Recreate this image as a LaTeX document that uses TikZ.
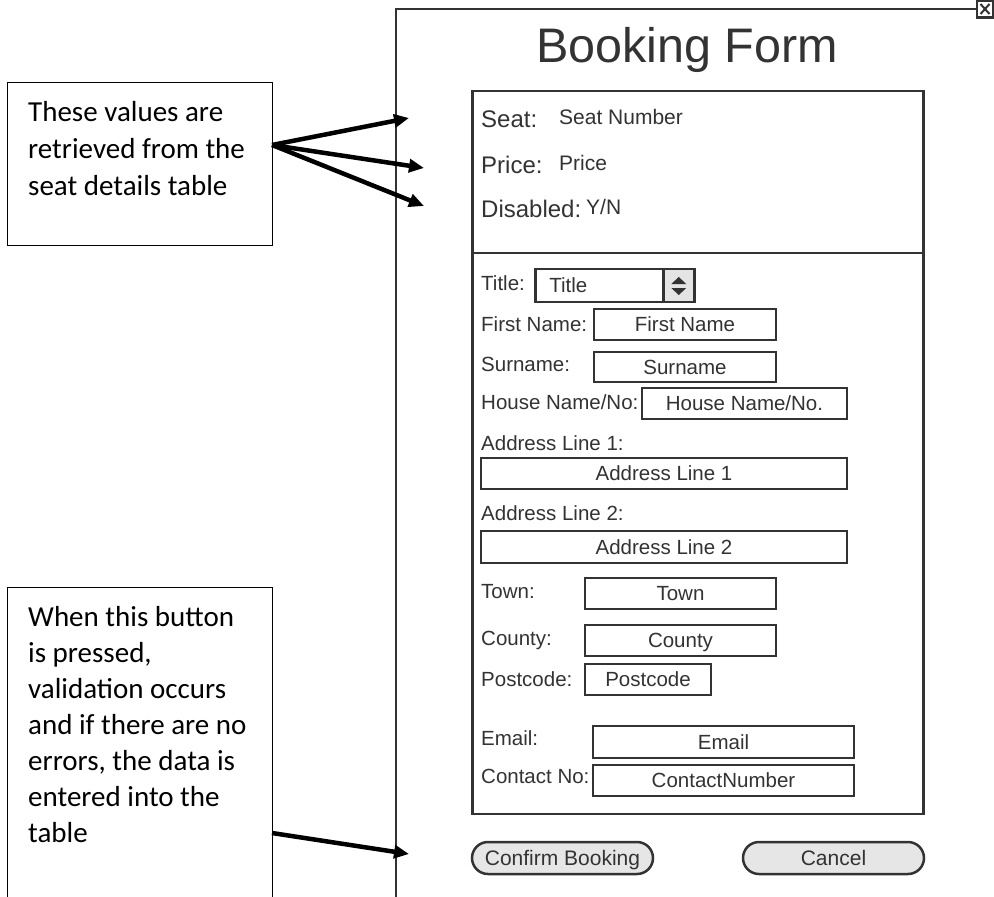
\documentclass[tikz,border=0pt]{standalone}
\usepackage{fontspec}
\setmainfont{Liberation Sans}
\newfontfamily\notefont{Carlito}
\usetikzlibrary{arrows.meta}
\definecolor{ink}{HTML}{333333}
\definecolor{btngray}{HTML}{E6E6E6}
\definecolor{spingray}{HTML}{E4E4E4}
\begin{document}
\begin{tikzpicture}[x=1pt,y=-1pt,
  wire/.style={draw=ink,line width=2.5pt},
  lbl/.style={anchor=base west,inner sep=0pt,text=ink,font=\fontsize{20.5}{24}\selectfont},
  seatlbl/.style={lbl,font=\fontsize{24}{28}\selectfont},
  seatval/.style={lbl,font=\fontsize{21}{25}\selectfont},
  field/.style={wire,fill=white,inner sep=0pt,text=ink,font=\fontsize{20.5}{24}\selectfont,text height=14.7pt,text depth=0pt},
  btn/.style={wire,fill=btngray,rounded corners=16pt,inner sep=0pt,text=ink,font=\fontsize{21}{25}\selectfont,text height=15pt,text depth=0pt},
  note/.style={anchor=base west,inner sep=0pt,align=flush left,text width=240pt},
  callout/.style={line width=4.5pt,-{Triangle[length=15pt,width=13pt]}},
]
% page
\fill[white] (0,0) rectangle (994,897);
\useasboundingbox (0,0) rectangle (994,897);

% dialog window frame and close button
\draw[wire] (396,910) -- (396,9) -- (994,9);
\node[wire,fill=white,minimum width=16pt,minimum height=17pt,inner sep=0pt] (close) at (985,9) {};
\draw[ink,line width=2pt] ([shift={(-4.5,-5)}]close.center) -- ([shift={(4.5,5)}]close.center)
                           ([shift={(-4.5,5)}]close.center) -- ([shift={(4.5,-5)}]close.center);
\node[anchor=base,inner sep=0pt,text=ink,font=\fontsize{48.5}{54}\selectfont] (heading) at (687,62) {Booking Form};

% seat details panel
\draw[wire] (472.5,91) rectangle (923.5,253);
\node[seatlbl] (seatl) at (481,127) {Seat:};
\node[seatval] (seatv) at (559,124) {Seat Number};
\node[seatlbl] (pricel) at (481,173) {Price:};
\node[seatval] (pricev) at (559,170) {Price};
\node[seatlbl] (disl) at (481,217) {Disabled:};
\node[seatval] (disv) at (586,214) {Y/N};

% customer details panel
\draw[wire] (472.5,253) rectangle (923.5,814);
\node[lbl] (titlel) at (481,290) {Title:};
\node[lbl] (fnl) at (481,331) {First Name:};
\node[lbl] (snl) at (481,371) {Surname:};
\node[lbl] (housel) at (481,409) {House Name/No:};
\node[lbl] (a1l) at (481,450) {Address Line 1:};
\node[lbl] (a2l) at (481,520) {Address Line 2:};
\node[lbl] (townl) at (481,598) {Town:};
\node[lbl] (countyl) at (481,645) {County:};
\node[lbl] (pcl) at (481,686) {Postcode:};
\node[lbl] (emaill) at (481,745) {Email:};
\node[lbl] (contactl) at (481,783) {Contact No:};

% title selector with spinner
\node[field,anchor=west,minimum width=159pt,minimum height=33pt,text width=131pt,inner xsep=14pt,align=left] (titlesel) at (534,285.5) {Title};
\node[wire,fill=spingray,anchor=east,minimum width=31pt,minimum height=33pt,inner sep=0pt] (spin) at (titlesel.east) {};
\fill[ink] ([shift={(-7.5,-1.5)}]spin.center) -- ([shift={(7.5,-1.5)}]spin.center) -- ([shift={(0,-8.5)}]spin.center) -- cycle;
\fill[ink] ([shift={(-7.5,2.5)}]spin.center) -- ([shift={(7.5,2.5)}]spin.center) -- ([shift={(0,9.5)}]spin.center) -- cycle;

% input fields
\node[field,minimum width=182pt,minimum height=31pt] (fn) at (685,324.5) {First Name};
\node[field,minimum width=182pt,minimum height=30pt] (sn) at (685,367) {Surname};
\node[field,minimum width=205pt,minimum height=31pt] (house) at (744.5,403.5) {House Name/No.};
\node[field,minimum width=366pt,minimum height=31pt] (a1) at (664,473.5) {Address Line 1};
\node[field,minimum width=366pt,minimum height=32pt] (a2) at (664,547) {Address Line 2};
\node[field,minimum width=191pt,minimum height=31pt] (town) at (680.5,593.5) {Town};
\node[field,minimum width=191pt,minimum height=31pt] (county) at (680.5,640.5) {County};
\node[field,minimum width=126pt,minimum height=31pt] (pc) at (648,679.5) {Postcode};
\node[field,minimum width=261pt,minimum height=32pt] (email) at (723.5,742) {Email};
\node[field,minimum width=261pt,minimum height=31pt] (contact) at (723.5,780.5) {ContactNumber};

% buttons
\node[btn,minimum width=181pt,minimum height=32pt] (confirm) at (562.5,858) {Confirm Booking};
\node[btn,minimum width=181pt,minimum height=32pt] (cancel) at (833.5,858) {Cancel};

% explanatory notes
\draw[black,line width=1pt] (7,82) rectangle (272,245);
\node[note,font=\notefont\fontsize{29}{37}\selectfont] (note1) at (28,121) {These values are\\retrieved from the\\seat details table};
\draw[black,line width=1pt] (7,910) -- (7,587) -- (272,587) -- (272,910);
\node[note,font=\notefont\fontsize{29}{36}\selectfont] (note2) at (28,626) {When this button\\is pressed,\\validation occurs\\and if there are no\\errors, the data is\\entered into the\\table};

% pointers from the notes
\coordinate (src1) at (272,145);
\coordinate (seattip) at (409,118);
\coordinate (pricetip) at (424,168);
\coordinate (distip) at (424,206);
\coordinate (src2) at (272,833);
\coordinate (confirmtip) at (409,854);
\draw[callout] (src1) -- (seattip);
\draw[callout] (src1) -- (pricetip);
\draw[callout] (src1) -- (distip);
\draw[callout] (src2) -- (confirmtip);
\end{tikzpicture}
\end{document}
